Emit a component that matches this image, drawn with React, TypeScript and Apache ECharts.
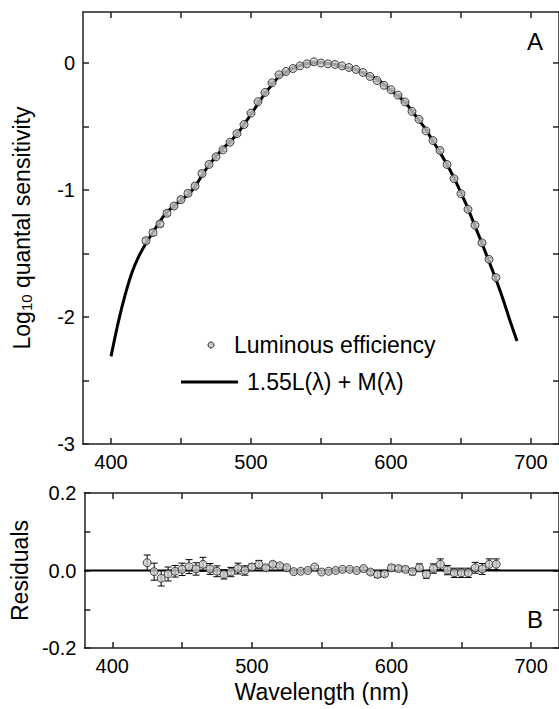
import React, { useEffect, useRef } from "react";
import * as echarts from "echarts";

const fitWavelengths = [
  400, 405, 410, 415, 420, 425, 430, 435, 440, 445, 450, 455, 460, 465, 470, 475, 480, 485, 490, 495,
  500, 505, 510, 515, 520, 525, 530, 535, 540, 545, 550, 555, 560, 565, 570, 575, 580, 585, 590, 595,
  600, 605, 610, 615, 620, 625, 630, 635, 640, 645, 650, 655, 660, 665, 670, 675, 680, 685, 690,
];
const fitValues = [
  -2.31, -2.05, -1.83, -1.65, -1.52, -1.42, -1.333, -1.248, -1.175, -1.125, -1.08, -1.037, -0.974, -0.887,
  -0.804, -0.738, -0.675, -0.621, -0.562, -0.486, -0.405, -0.322, -0.24, -0.173, -0.106, -0.075, -0.042,
  -0.022, -0.008, -0.001, 0.002, -0.006, -0.013, -0.027, -0.04, -0.052, -0.081, -0.103, -0.129, -0.168,
  -0.219, -0.259, -0.311, -0.379, -0.452, -0.526, -0.617, -0.706, -0.801, -0.906, -1.024, -1.147, -1.285,
  -1.421, -1.563, -1.706, -1.86, -2.03, -2.19,
];

const dataWavelengths = [
  425, 430, 435, 440, 445, 450, 455, 460, 465, 470, 475, 480, 485, 490, 495, 500, 505, 510, 515, 520,
  525, 530, 535, 540, 545, 550, 555, 560, 565, 570, 575, 580, 585, 590, 595, 600, 605, 610, 615, 620,
  625, 630, 635, 640, 645, 650, 655, 660, 665, 670, 675,
];
const luminousValues = [
  -1.4, -1.336, -1.268, -1.184, -1.127, -1.077, -1.027, -0.97, -0.871, -0.8,
  -0.74, -0.685, -0.625, -0.557, -0.486, -0.396, -0.306, -0.233, -0.157, -0.094,
  -0.068, -0.045, -0.024, -0.008, 0.008, -0.002, -0.008, -0.013, -0.024, -0.037,
  -0.052, -0.076, -0.107, -0.139, -0.177, -0.212, -0.254, -0.308, -0.382, -0.445,
  -0.536, -0.612, -0.69, -0.8, -0.912, -1.03, -1.153, -1.278, -1.417, -1.547,
  -1.69,
];
const residualValues = [
  0.02, -0.003, -0.02, -0.009, -0.002, 0.003, 0.01, 0.004, 0.016, 0.004,
  -0.002, -0.01, -0.004, 0.005, 0.0, 0.009, 0.016, 0.007, 0.016, 0.012,
  0.007, -0.003, -0.002, 0.0, 0.009, -0.004, -0.002, 0.0, 0.003, 0.003,
  0.0, 0.005, -0.004, -0.01, -0.009, 0.007, 0.005, 0.003, -0.003, 0.007,
  -0.01, 0.005, 0.016, 0.001, -0.006, -0.006, -0.006, 0.007, 0.004, 0.016,
  0.016,
];
const errorValues = [
  0.02, 0.022, 0.02, 0.018, 0.015, 0.016, 0.018, 0.016, 0.018, 0.014,
  0.014, 0.012, 0.012, 0.014, 0.012, 0.008, 0.01, 0.006, 0.006, 0.005,
  0.004, 0.004, 0.004, 0.004, 0.004, 0.004, 0.004, 0.004, 0.004, 0.004,
  0.004, 0.004, 0.006, 0.008, 0.006, 0.007, 0.006, 0.006, 0.008, 0.01,
  0.01, 0.012, 0.014, 0.012, 0.012, 0.012, 0.012, 0.014, 0.014, 0.014,
  0.014,
];

const xTickValues = [400, 450, 500, 550, 600, 650, 700];
const xLabelValues = [400, 500, 600, 700];
const topYTicks = [-3, -2.5, -2, -1.5, -1, -0.5, 0];
const topYLabels = [-3, -2, -1, 0];
const resYTicks = [-0.2, -0.1, 0, 0.1, 0.2];
const resYLabels = [-0.2, 0, 0.2];
const zeroLine = [380, 720];

const FONT = "'Liberation Sans', Arial, sans-serif";
const AXIS_COLOR = "#222";
const TICK_FONT = 20;
const NAME_FONT = 23;

function errorBarRender(params: any, api: any) {
  const x = api.value(0);
  const y = api.value(1);
  const e = api.value(2);
  const top = api.coord([x, y + e]);
  const bot = api.coord([x, y - e]);
  const hw = 3.5;
  const style = { stroke: "#000", lineWidth: 1 };
  return {
    type: "group",
    children: [
      { type: "line", shape: { x1: top[0], y1: top[1], x2: bot[0], y2: bot[1] }, style },
      { type: "line", shape: { x1: top[0] - hw, y1: top[1], x2: top[0] + hw, y2: top[1] }, style },
      { type: "line", shape: { x1: bot[0] - hw, y1: bot[1], x2: bot[0] + hw, y2: bot[1] }, style },
    ],
  };
}

function xAxisDef(gridIndex: number, position: string, showLabels: boolean, name?: string) {
  return {
    type: "value",
    gridIndex,
    position,
    min: 380,
    max: 720,
    name: name || "",
    nameLocation: "middle",
    nameGap: 32,
    nameTextStyle: { fontFamily: FONT, fontSize: NAME_FONT, color: "#000" },
    axisLine: { show: true, onZero: false, lineStyle: { color: AXIS_COLOR, width: 1.5 } },
    axisTick: { show: true, inside: true, length: 6, customValues: xTickValues, lineStyle: { color: AXIS_COLOR, width: 1.5 } },
    axisLabel: {
      show: showLabels,
      customValues: xLabelValues,
      margin: 8,
      fontFamily: FONT,
      fontSize: TICK_FONT,
      color: "#000",
    },
    splitLine: { show: false },
  };
}

function yAxisDef(
  gridIndex: number,
  position: string,
  min: number,
  max: number,
  ticks: number[],
  labels: number[] | null,
  formatter: (v: number) => string,
  name?: string,
  nameGap?: number
) {
  return {
    type: "value",
    gridIndex,
    position,
    min,
    max,
    name: name || "",
    nameLocation: "middle",
    nameGap: nameGap || 50,
    nameRotate: 90,
    nameTextStyle: {
      fontFamily: FONT,
      fontSize: NAME_FONT,
      color: "#000",
      rich: {
        sub: { fontFamily: FONT, fontSize: 15, color: "#000", padding: [9, 0, 0, 0] },
        n: { fontFamily: FONT, fontSize: NAME_FONT, color: "#000" },
      },
    },
    axisLine: { show: true, onZero: false, lineStyle: { color: AXIS_COLOR, width: 1.5 } },
    axisTick: { show: true, inside: true, length: 6, customValues: ticks, lineStyle: { color: AXIS_COLOR, width: 1.5 } },
    axisLabel: {
      show: !!labels,
      customValues: labels || undefined,
      margin: 8,
      fontFamily: FONT,
      fontSize: TICK_FONT,
      color: "#000",
      formatter,
    },
    splitLine: { show: false },
  };
}

export default function App() {
  const ref = useRef<HTMLDivElement>(null);

  useEffect(() => {
    if (!ref.current) return;
    const chart = echarts.init(ref.current, undefined, { renderer: "svg" });

    const fitData = fitWavelengths.map((w, i) => [w, fitValues[i]]);
    const lumData = dataWavelengths.map((w, i) => [w, luminousValues[i]]);
    const lumErr = dataWavelengths.map((w, i) => [w, luminousValues[i], errorValues[i]]);
    const resData = dataWavelengths.map((w, i) => [w, residualValues[i]]);
    const resErr = dataWavelengths.map((w, i) => [w, residualValues[i], errorValues[i]]);

    const symbolStyle = { color: "#c8c8c8", borderColor: "#222", borderWidth: 1 };

    chart.setOption({
      animation: false,
      backgroundColor: "#fff",
      grid: [
        { left: 83, top: 12, width: 479, height: 432 },
        { left: 83, top: 493, width: 479, height: 155 },
      ],
      xAxis: [
        xAxisDef(0, "bottom", true),
        xAxisDef(0, "top", false),
        xAxisDef(1, "bottom", true, "Wavelength (nm)"),
        xAxisDef(1, "top", false),
      ],
      yAxis: [
        yAxisDef(0, "left", -3, 0.4, topYTicks, topYLabels, (v: number) => String(v),
          "{n|Log}{sub|10}{n| quantal sensitivity}", 49),
        yAxisDef(0, "right", -3, 0.4, topYTicks, null, (v: number) => String(v)),
        yAxisDef(1, "left", -0.2, 0.2, resYTicks, resYLabels, (v: number) => v.toFixed(1), "Residuals", 49),
        yAxisDef(1, "right", -0.2, 0.2, resYTicks, null, (v: number) => v.toFixed(1)),
      ],
      series: [
        {
          type: "line",
          name: "1.55L(λ) + M(λ)",
          xAxisIndex: 0,
          yAxisIndex: 0,
          data: fitData,
          showSymbol: false,
          smooth: 0.2,
          lineStyle: { color: "#000", width: 3 },
          z: 2,
        },
        {
          type: "custom",
          xAxisIndex: 0,
          yAxisIndex: 0,
          data: lumErr,
          renderItem: errorBarRender,
          encode: { x: 0, y: 1 },
          z: 3,
        },
        {
          type: "scatter",
          name: "Luminous efficiency",
          xAxisIndex: 0,
          yAxisIndex: 0,
          data: lumData,
          symbol: "circle",
          symbolSize: 8,
          itemStyle: symbolStyle,
          z: 4,
        },
        {
          type: "line",
          xAxisIndex: 2,
          yAxisIndex: 2,
          data: zeroLine.map((w) => [w, 0]),
          showSymbol: false,
          lineStyle: { color: "#000", width: 2 },
          z: 2,
        },
        {
          type: "custom",
          xAxisIndex: 2,
          yAxisIndex: 2,
          data: resErr,
          renderItem: errorBarRender,
          encode: { x: 0, y: 1 },
          z: 3,
        },
        {
          type: "scatter",
          xAxisIndex: 2,
          yAxisIndex: 2,
          data: resData,
          symbol: "circle",
          symbolSize: 8,
          itemStyle: symbolStyle,
          z: 4,
        },
      ],
      graphic: [
        {
          type: "circle",
          shape: { cx: 211, cy: 345, r: 3 },
          style: { fill: "#c8c8c8", stroke: "#222", lineWidth: 1 },
        },
        {
          type: "text",
          x: 234,
          y: 345,
          style: { text: "Luminous efficiency", font: `${NAME_FONT}px ${FONT}`, fill: "#000", textVerticalAlign: "middle" },
        },
        {
          type: "line",
          shape: { x1: 181, y1: 382, x2: 238, y2: 382 },
          style: { stroke: "#000", lineWidth: 3 },
        },
        {
          type: "text",
          x: 247,
          y: 382,
          style: { text: "1.55L(λ) + M(λ)", font: `${NAME_FONT}px ${FONT}`, fill: "#000", textVerticalAlign: "middle" },
        },
        {
          type: "text",
          x: 527,
          y: 41,
          style: { text: "A", font: `24px ${FONT}`, fill: "#000", textVerticalAlign: "middle" },
        },
        {
          type: "text",
          x: 527,
          y: 619,
          style: { text: "B", font: `24px ${FONT}`, fill: "#000", textVerticalAlign: "middle" },
        },
      ],
    });

    return () => chart.dispose();
  }, []);

  return (
    <div
      ref={ref}
      style={{ position: "absolute", left: 0, top: 0, width: 559, height: 709, background: "#fff" }}
    />
  );
}
